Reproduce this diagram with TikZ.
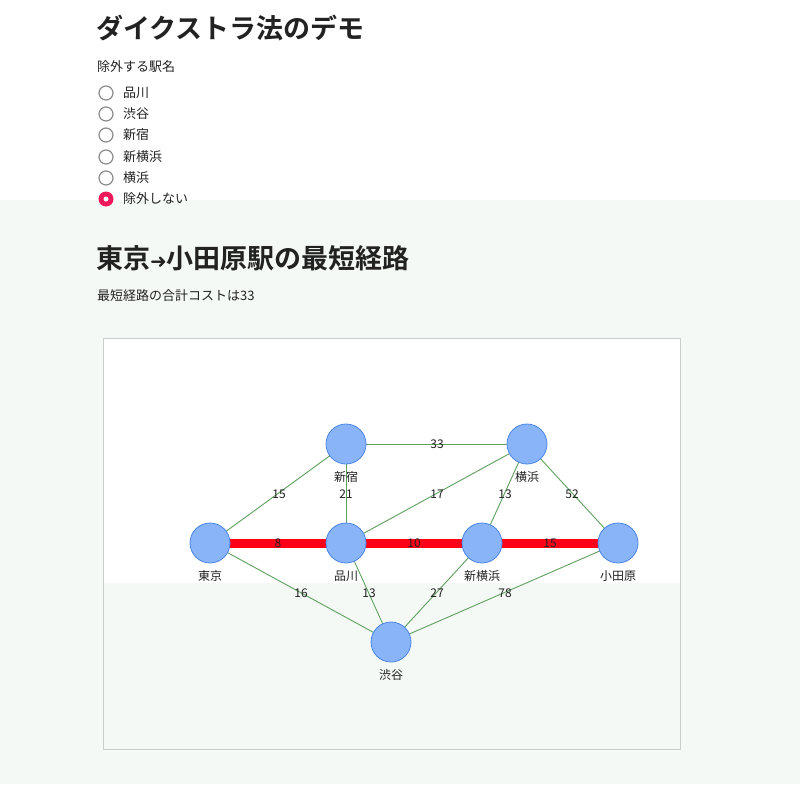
\documentclass[tikz,border=0pt]{standalone}
\usepackage{fontspec}
\setmainfont{Noto Sans CJK JP}
\newfontfamily\jpb{Noto Sans CJK JP Bold}
\newfontfamily\djv{DejaVu Sans}
\definecolor{bgg}{HTML}{F5F9F5}
\definecolor{nodef}{HTML}{8AB4F8}
\definecolor{noded}{HTML}{4A86E8}
\definecolor{edgeg}{HTML}{5FA05F}
\definecolor{pathr}{HTML}{FF0018}
\definecolor{txt}{HTML}{222222}
\definecolor{radio}{HTML}{F0185A}
\begin{document}
\begin{tikzpicture}[x=1pt,y=-1pt,
  st/.style={circle,fill=nodef,draw=noded,line width=0.8pt,minimum size=40pt,inner sep=0pt},
  nl/.style={font=\fontsize{12}{14}\selectfont,text=txt},
  el/.style={font=\fontsize{12}{14}\selectfont,text=txt,inner sep=0.5pt},
  ed/.style={draw=edgeg,line width=0.9pt},
  sp/.style={draw=pathr,line width=9pt},
  rb/.style={circle,draw=gray!90,line width=1.2pt,minimum size=14pt,inner sep=0pt},
  lt/.style={font=\fontsize{13}{15}\selectfont,text=txt,anchor=west,inner sep=0pt}]
\useasboundingbox (0,0) rectangle (800,784);
\fill[white] (0,0) rectangle (800,784);
\fill[bgg] (0,200) rectangle (800,784);
\fill[white] (103,338) rectangle (680,583);
\fill[bgg] (103,583) rectangle (680,749);
\draw[gray!40,line width=0.8pt] (103,338) rectangle (680,749);
\node[anchor=west,inner sep=0pt,font=\jpb\fontsize{27}{30}\selectfont,text=txt] (t1) at (96,28) {ダイクストラ法のデモ};
\node[lt] (lab) at (97,67) {除外する駅名};
\foreach \y/\t [count=\i] in {93/品川,114/渋谷,135/新宿,157/新横浜,178/横浜}{
  \node[rb] (r\i) at (106,\y) {};
  \node[lt] (rl\i) at (123,\y) {\t};
}
\node[circle,fill=radio,minimum size=15pt,inner sep=0pt] (r6) at (106,199) {};
\node[circle,fill=white,minimum size=5pt,inner sep=0pt] (r6c) at (106,199) {};
\node[lt] (rl6) at (123,199) {除外しない};
\node[anchor=west,inner sep=0pt,font=\jpb\fontsize{27}{30}\selectfont,text=txt] (t2) at (96,258) {東京{\djv\bfseries\fontsize{20}{24}\selectfont ➜}小田原駅の最短経路};
\node[lt] (cost) at (97,296) {最短経路の合計コストは33};

\coordinate (tk) at (210,543);
\coordinate (sg) at (346,543);
\coordinate (sy) at (482,543);
\coordinate (od) at (618,543);
\coordinate (sj) at (346,444);
\coordinate (yh) at (527,444);
\coordinate (sb) at (391,642);
\draw[ed] (tk)--(sj); \draw[ed] (sj)--(sg); \draw[ed] (sg)--(yh);
\draw[ed] (yh)--(sy); \draw[ed] (yh)--(od); \draw[ed] (sj)--(yh);
\draw[ed] (tk)--(sb); \draw[ed] (sg)--(sb); \draw[ed] (sy)--(sb); \draw[ed] (od)--(sb);
\draw[sp] (tk)--(sg); \draw[sp] (sg)--(sy); \draw[sp] (sy)--(od);
\foreach \n in {tk,sg,sy,od,sj,yh,sb}{\node[st] (n\n) at (\n) {};}
\node[nl] at (210,576) {東京};
\node[nl] at (346,576) {品川};
\node[nl] at (482,576) {新横浜};
\node[nl] at (618,576) {小田原};
\node[nl] at (346,477) {新宿};
\node[nl] at (527,477) {横浜};
\node[nl] at (391,675) {渋谷};
\node[el] at (279,494) {15};
\node[el] at (346,494) {21};
\node[el] at (437,494) {17};
\node[el] at (505,494) {13};
\node[el] at (572,494) {52};
\node[el] at (437,444) {33};
\node[el] at (278,543) {8};
\node[el] at (414,543) {10};
\node[el] at (550,543) {15};
\node[el] at (301,593) {16};
\node[el] at (369,593) {13};
\node[el] at (437,593) {27};
\node[el] at (505,593) {78};
\end{tikzpicture}
\end{document}
